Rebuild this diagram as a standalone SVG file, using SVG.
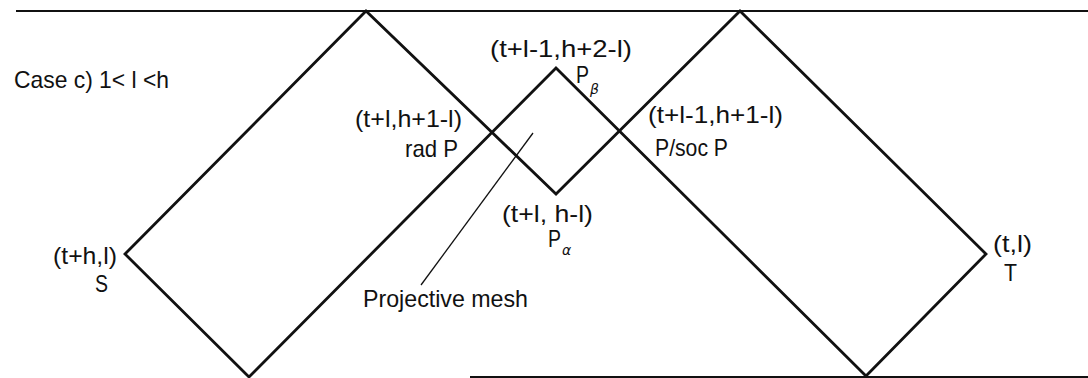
<svg xmlns="http://www.w3.org/2000/svg" width="1088" height="378" viewBox="0 0 1088 378">
<style>
.t{font-family:"Liberation Sans Narrow","Liberation Sans",Arial,sans-serif;font-size:24px;fill:#111;}
.sub{font-family:"DejaVu Sans","Liberation Serif",serif;font-size:14px;font-style:italic;fill:#111;}
.edge{fill:none;stroke:#111;stroke-width:2.8;stroke-linejoin:miter;}
.rule{stroke:#111;stroke-width:2.2;}
.thin{stroke:#111;stroke-width:1.3;}
</style>
<rect width="1088" height="378" fill="#fff"/>
<g id="frame">
<line class="rule" x1="16" y1="11" x2="1088" y2="11"/>
<line class="rule" x1="470" y1="377" x2="1088" y2="377"/>
</g>
<g id="connectors">
<polygon class="edge" points="125,254 366,11 556,194 740,11 986,254 866,376 556,68 249,377"/>
<line class="thin" x1="533" y1="133" x2="421" y2="285"/>
</g>
<g id="caption"><text class="t" x="14" y="88" textLength="155" lengthAdjust="spacingAndGlyphs">Case c)  1&lt; l &lt;h</text></g>
<g id="node-Pbeta">
<text class="t" x="490" y="57" textLength="142" lengthAdjust="spacingAndGlyphs">(t+l-1,h+2-l)</text>
<text class="t" x="576" y="83" textLength="13" lengthAdjust="spacingAndGlyphs">P</text><text class="sub" x="590" y="94">β</text>
</g>
<g id="node-radP">
<text class="t" x="355" y="127" textLength="107" lengthAdjust="spacingAndGlyphs">(t+l,h+1-l)</text>
<text class="t" x="405" y="157" textLength="53" lengthAdjust="spacingAndGlyphs">rad P</text>
</g>
<g id="node-socP">
<text class="t" x="648" y="123" textLength="135" lengthAdjust="spacingAndGlyphs">(t+l-1,h+1-l)</text>
<text class="t" x="655" y="156" textLength="73" lengthAdjust="spacingAndGlyphs">P/soc P</text>
</g>
<g id="node-Palpha">
<text class="t" x="502" y="222" textLength="91" lengthAdjust="spacingAndGlyphs">(t+l, h-l)</text>
<text class="t" x="548" y="247" textLength="13" lengthAdjust="spacingAndGlyphs">P</text><text class="sub" x="562" y="255">α</text>
</g>
<g id="node-mesh"><text class="t" x="363" y="307" textLength="165" lengthAdjust="spacingAndGlyphs">Projective mesh</text></g>
<g id="node-S">
<text class="t" x="53" y="264" textLength="64" lengthAdjust="spacingAndGlyphs">(t+h,l)</text>
<text class="t" x="95" y="292" textLength="13" lengthAdjust="spacingAndGlyphs">S</text>
</g>
<g id="node-T">
<text class="t" x="993" y="252" textLength="39" lengthAdjust="spacingAndGlyphs">(t,l)</text>
<text class="t" x="1004" y="281" textLength="13" lengthAdjust="spacingAndGlyphs">T</text>
</g>
</svg>
